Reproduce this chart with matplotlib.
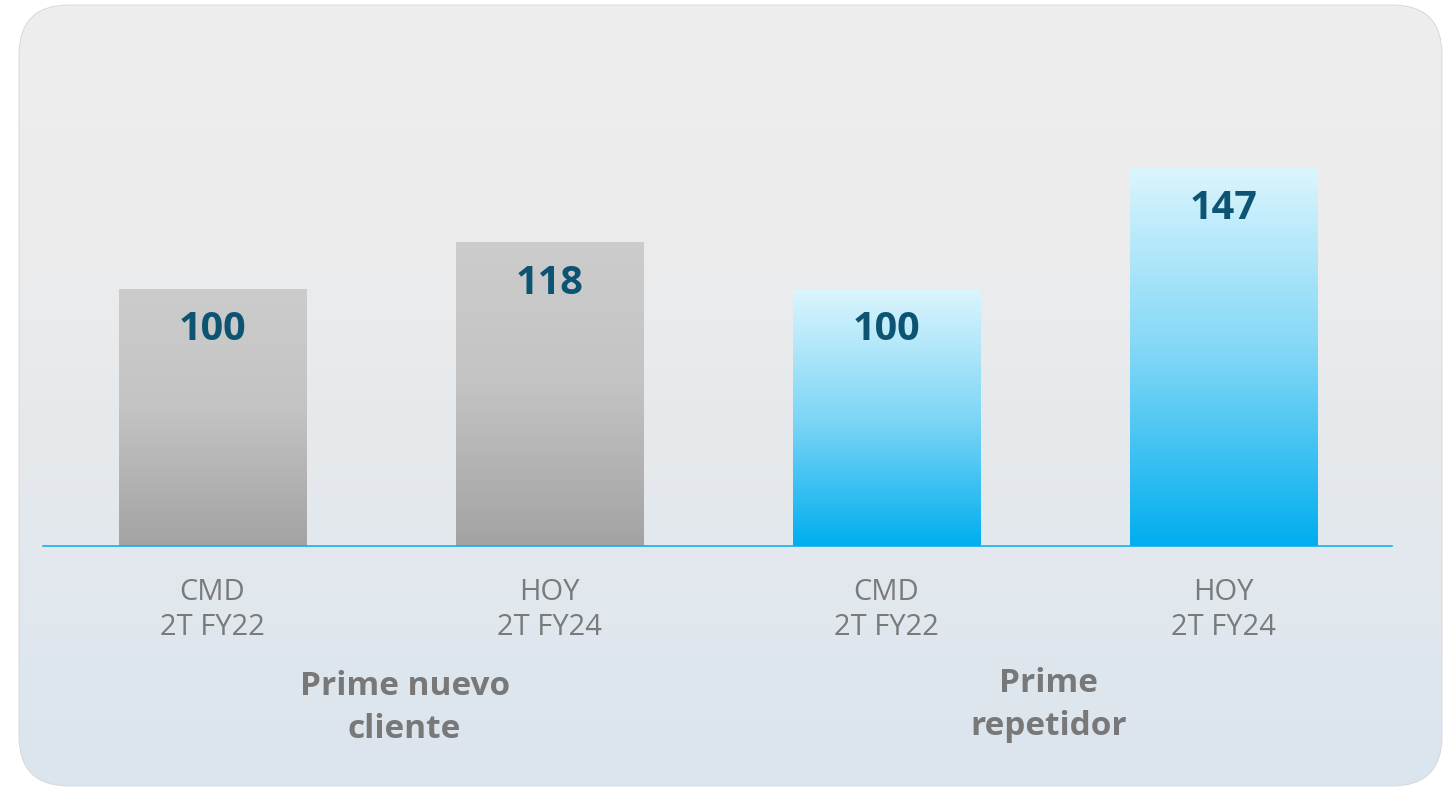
import matplotlib
matplotlib.use("Agg")
import matplotlib.pyplot as plt
import matplotlib.patches as mpatches
import matplotlib.transforms as mtransforms
from matplotlib.colors import LinearSegmentedColormap
import numpy as np

# ── Data ──────────────────────────────────────────────────────────────────────
categories = ["CMD\n2T FY22", "HOY\n2T FY24", "CMD\n2T FY22", "HOY\n2T FY24"]
values = [100, 118, 100, 147]
groups = ["Prime nuevo\ncliente", "Prime\nrepetidor"]
group_x = [0.57, 2.48]
group_y = [0.100, 0.104]

# ── Colours ───────────────────────────────────────────────────────────────────
BG_TOP = "#eeeeee"
BG_BOT = "#dbe5ee"
GRAY_TOP = "#cccccc"
GRAY_BOT = "#a3a3a3"
BLUE_TOP = "#dbf5fd"
BLUE_BOT = "#00aeef"
VALUE_C = "#0d5473"
LABEL_C = "#7a7a7a"
GROUP_C = "#787878"
LINE_C = "#00aeef"

plt.rcParams["font.family"] = ["Open Sans", "DejaVu Sans"]

W, H = 1443, 787
fig = plt.figure(figsize=(W / 100, H / 100), dpi=100, facecolor="white")

# ── Rounded card background with vertical gradient ────────────────────────────
bg = fig.add_axes([0, 0, 1, 1])
bg.set_xlim(0, W)
bg.set_ylim(H, 0)
bg.axis("off")
card = mpatches.FancyBboxPatch((19, 5), 1423, 781,
                               boxstyle="round,pad=0,rounding_size=50",
                               facecolor="none", edgecolor="#d8d8d8", linewidth=0.7,
                               transform=bg.transData, zorder=2)
bg.add_patch(card)
bg_cmap = LinearSegmentedColormap.from_list("bg", [(0, BG_TOP), (0.3, "#ececec"), (1, BG_BOT)])
grad = np.linspace(0, 1, 256).reshape(-1, 1)
im = bg.imshow(grad, cmap=bg_cmap, extent=[19, 1442, 786, 5], aspect="auto",
               origin="upper", zorder=1)
im.set_clip_path(card)

# ── Bars ──────────────────────────────────────────────────────────────────────
ax = fig.add_axes([43 / W, 1 - 546 / H, 1349 / W, 411.2 / H])
ax.set_facecolor("none")
for s in ["top", "left", "right"]:
    ax.spines[s].set_visible(False)
ax.spines["bottom"].set_color(LINE_C)
ax.spines["bottom"].set_linewidth(1.1)
ax.set_yticks([])
ax.set_xticks([])

width = 0.555
gray_cmap = LinearSegmentedColormap.from_list("g", [(0, GRAY_BOT), (0.55, "#c4c4c4"), (1, GRAY_TOP)])
blue_cmap = LinearSegmentedColormap.from_list("b", [BLUE_BOT, "#7fd6f6", BLUE_TOP])
bar_grad = np.linspace(1, 0, 256).reshape(-1, 1)
for i, v in enumerate(values):
    cmap = gray_cmap if i < 2 else blue_cmap
    ax.imshow(bar_grad, cmap=cmap, vmin=0, vmax=1, aspect="auto",
              extent=[i - width / 2, i + width / 2, 0, v], origin="upper", zorder=2)
    ax.annotate(str(v), xy=(i, v), xytext=(0, -29.3), textcoords="offset points",
                ha="center", va="center", fontsize=28.5, fontweight="bold",
                color=VALUE_C, zorder=3)
ax.set_xlim(-0.503, 3.5)
ax.set_ylim(0, 160)

# ── Category and group labels ─────────────────────────────────────────────────
trans = mtransforms.blended_transform_factory(ax.transData, fig.transFigure)
for i, lab in enumerate(categories):
    ax.text(i, 0.225, lab, transform=trans, ha="center", va="center",
            fontsize=21, color=LABEL_C, linespacing=1.27)
for gx, gy, lab in zip(group_x, group_y, groups):
    ax.text(gx, gy, lab, transform=trans, ha="center", va="center",
            fontsize=24, fontweight="bold", color=GROUP_C, linespacing=1.4)

fig.savefig("out.png", dpi=100, facecolor="white")
